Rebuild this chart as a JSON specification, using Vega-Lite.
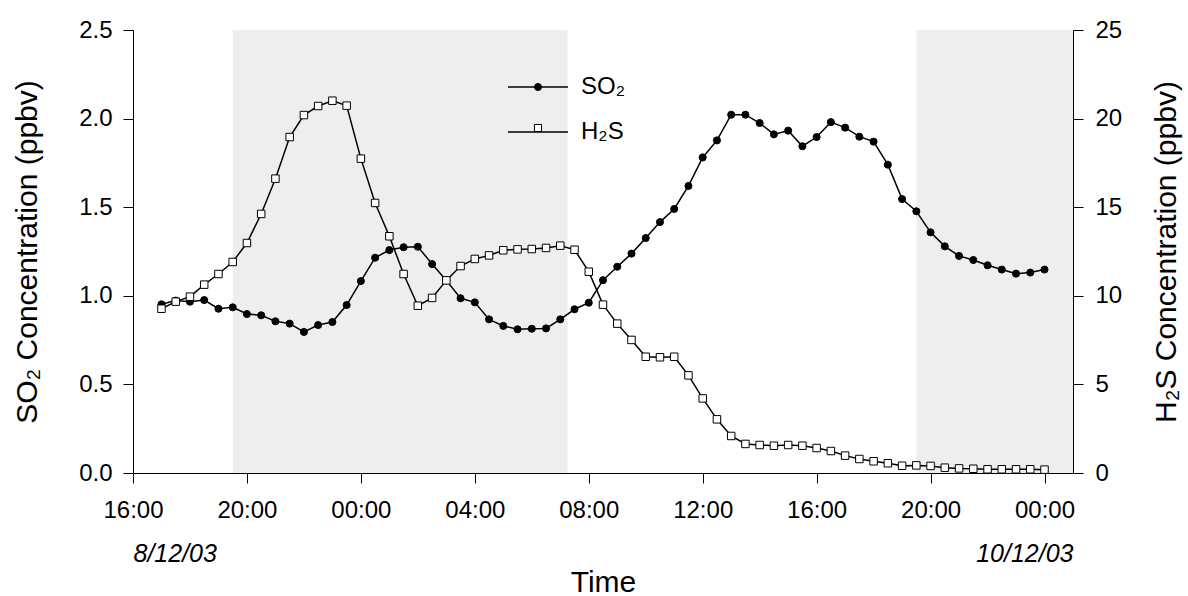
{
  "$schema": "https://vega.github.io/schema/vega-lite/v6.json",
  "width": 940,
  "height": 443,
  "autosize": "none",
  "padding": {"left": 133, "top": 30, "right": 115, "bottom": 123},
  "background": "white",
  "datasets": {
    "conc": [
      {"t": "2003-12-08T17:00:00", "so2": 0.952, "h2s": 9.27},
      {"t": "2003-12-08T17:30:00", "so2": 0.973, "h2s": 9.67},
      {"t": "2003-12-08T18:00:00", "so2": 0.967, "h2s": 9.95},
      {"t": "2003-12-08T18:30:00", "so2": 0.976, "h2s": 10.63},
      {"t": "2003-12-08T19:00:00", "so2": 0.927, "h2s": 11.23},
      {"t": "2003-12-08T19:30:00", "so2": 0.935, "h2s": 11.91},
      {"t": "2003-12-08T20:00:00", "so2": 0.897, "h2s": 12.98},
      {"t": "2003-12-08T20:30:00", "so2": 0.890, "h2s": 14.62},
      {"t": "2003-12-08T21:00:00", "so2": 0.856, "h2s": 16.61},
      {"t": "2003-12-08T21:30:00", "so2": 0.843, "h2s": 18.96},
      {"t": "2003-12-08T22:00:00", "so2": 0.796, "h2s": 20.20},
      {"t": "2003-12-08T22:30:00", "so2": 0.835, "h2s": 20.71},
      {"t": "2003-12-08T23:00:00", "so2": 0.852, "h2s": 21.01},
      {"t": "2003-12-08T23:30:00", "so2": 0.948, "h2s": 20.73},
      {"t": "2003-12-09T00:00:00", "so2": 1.083, "h2s": 17.74},
      {"t": "2003-12-09T00:30:00", "so2": 1.215, "h2s": 15.24},
      {"t": "2003-12-09T01:00:00", "so2": 1.258, "h2s": 13.36},
      {"t": "2003-12-09T01:30:00", "so2": 1.274, "h2s": 11.23},
      {"t": "2003-12-09T02:00:00", "so2": 1.277, "h2s": 9.44},
      {"t": "2003-12-09T02:30:00", "so2": 1.179, "h2s": 9.88},
      {"t": "2003-12-09T03:00:00", "so2": 1.087, "h2s": 10.87},
      {"t": "2003-12-09T03:30:00", "so2": 0.986, "h2s": 11.68},
      {"t": "2003-12-09T04:00:00", "so2": 0.963, "h2s": 12.08},
      {"t": "2003-12-09T04:30:00", "so2": 0.867, "h2s": 12.28},
      {"t": "2003-12-09T05:00:00", "so2": 0.830, "h2s": 12.57},
      {"t": "2003-12-09T05:30:00", "so2": 0.811, "h2s": 12.62},
      {"t": "2003-12-09T06:00:00", "so2": 0.814, "h2s": 12.64},
      {"t": "2003-12-09T06:30:00", "so2": 0.816, "h2s": 12.70},
      {"t": "2003-12-09T07:00:00", "so2": 0.867, "h2s": 12.83},
      {"t": "2003-12-09T07:30:00", "so2": 0.924, "h2s": 12.60},
      {"t": "2003-12-09T08:00:00", "so2": 0.961, "h2s": 11.36},
      {"t": "2003-12-09T08:30:00", "so2": 1.088, "h2s": 9.50},
      {"t": "2003-12-09T09:00:00", "so2": 1.164, "h2s": 8.43},
      {"t": "2003-12-09T09:30:00", "so2": 1.238, "h2s": 7.51},
      {"t": "2003-12-09T10:00:00", "so2": 1.326, "h2s": 6.56},
      {"t": "2003-12-09T10:30:00", "so2": 1.416, "h2s": 6.53},
      {"t": "2003-12-09T11:00:00", "so2": 1.490, "h2s": 6.56},
      {"t": "2003-12-09T11:30:00", "so2": 1.620, "h2s": 5.51},
      {"t": "2003-12-09T12:00:00", "so2": 1.781, "h2s": 4.21},
      {"t": "2003-12-09T12:30:00", "so2": 1.877, "h2s": 3.03},
      {"t": "2003-12-09T13:00:00", "so2": 2.022, "h2s": 2.09},
      {"t": "2003-12-09T13:30:00", "so2": 2.022, "h2s": 1.64},
      {"t": "2003-12-09T14:00:00", "so2": 1.975, "h2s": 1.58},
      {"t": "2003-12-09T14:30:00", "so2": 1.911, "h2s": 1.54},
      {"t": "2003-12-09T15:00:00", "so2": 1.932, "h2s": 1.58},
      {"t": "2003-12-09T15:30:00", "so2": 1.844, "h2s": 1.54},
      {"t": "2003-12-09T16:00:00", "so2": 1.896, "h2s": 1.41},
      {"t": "2003-12-09T16:30:00", "so2": 1.980, "h2s": 1.24},
      {"t": "2003-12-09T17:00:00", "so2": 1.949, "h2s": 0.98},
      {"t": "2003-12-09T17:30:00", "so2": 1.898, "h2s": 0.79},
      {"t": "2003-12-09T18:00:00", "so2": 1.870, "h2s": 0.66},
      {"t": "2003-12-09T18:30:00", "so2": 1.740, "h2s": 0.55},
      {"t": "2003-12-09T19:00:00", "so2": 1.546, "h2s": 0.41},
      {"t": "2003-12-09T19:30:00", "so2": 1.477, "h2s": 0.43},
      {"t": "2003-12-09T20:00:00", "so2": 1.358, "h2s": 0.40},
      {"t": "2003-12-09T20:30:00", "so2": 1.279, "h2s": 0.30},
      {"t": "2003-12-09T21:00:00", "so2": 1.225, "h2s": 0.26},
      {"t": "2003-12-09T21:30:00", "so2": 1.202, "h2s": 0.24},
      {"t": "2003-12-09T22:00:00", "so2": 1.172, "h2s": 0.21},
      {"t": "2003-12-09T22:30:00", "so2": 1.148, "h2s": 0.21},
      {"t": "2003-12-09T23:00:00", "so2": 1.125, "h2s": 0.21},
      {"t": "2003-12-09T23:30:00", "so2": 1.131, "h2s": 0.21},
      {"t": "2003-12-10T00:00:00", "so2": 1.148, "h2s": 0.19}
    ],
    "night": [
      {"start": "2003-12-08T19:30:00", "end": "2003-12-09T07:15:00"},
      {"start": "2003-12-09T19:30:00", "end": "2003-12-10T01:00:00"}
    ]
  },
  "layer": [
    {
      "data": {"name": "night"},
      "mark": {"type": "rect", "fill": "#eeeeee"},
      "encoding": {
        "x": {
          "field": "start", "type": "temporal",
          "scale": {"domain": [{"year": 2003, "month": 12, "date": 8, "hours": 16}, {"year": 2003, "month": 12, "date": 10, "hours": 1}], "nice": false},
          "axis": {
            "orient": "bottom",
            "values": [{"year": 2003, "month": 12, "date": 8, "hours": 16}, {"year": 2003, "month": 12, "date": 10, "hours": 1}],
            "labelExpr": "datum.index < 0.5 ? '8/12/03' : '10/12/03'",
            "labelFlush": true,
            "labelFontStyle": "italic",
            "labelFontSize": 25,
            "labelPadding": 68,
            "labelOverlap": false,
            "domain": false,
            "ticks": false,
            "tickSize": 0,
            "title": "Time",
            "titlePadding": 1
          }
        },
        "x2": {"field": "end"},
        "y": {"datum": 0, "type": "quantitative", "scale": {"domain": [0, 2.5], "nice": false}, "axis": null},
        "y2": {"datum": 2.5}
      }
    },
    {
      "data": {"name": "conc"},
      "mark": {"type": "line", "strokeWidth": 1.5},
      "encoding": {
        "x": {
          "field": "t", "type": "temporal",
          "scale": {"domain": [{"year": 2003, "month": 12, "date": 8, "hours": 16}, {"year": 2003, "month": 12, "date": 10, "hours": 1}], "nice": false},
          "axis": {
            "orient": "bottom",
            "values": [
              {"year": 2003, "month": 12, "date": 8, "hours": 16},
              {"year": 2003, "month": 12, "date": 8, "hours": 20},
              {"year": 2003, "month": 12, "date": 9, "hours": 0},
              {"year": 2003, "month": 12, "date": 9, "hours": 4},
              {"year": 2003, "month": 12, "date": 9, "hours": 8},
              {"year": 2003, "month": 12, "date": 9, "hours": 12},
              {"year": 2003, "month": 12, "date": 9, "hours": 16},
              {"year": 2003, "month": 12, "date": 9, "hours": 20},
              {"year": 2003, "month": 12, "date": 10, "hours": 0}
            ],
            "format": "%H:%M",
            "labelPadding": 15,
            "labelFlush": false,
            "labelOverlap": false,
            "title": null
          }
        },
        "y": {
          "field": "so2", "type": "quantitative",
          "scale": {"domain": [0, 2.5], "nice": false},
          "axis": {
            "orient": "left",
            "values": [0, 0.5, 1, 1.5, 2, 2.5],
            "format": ".1f",
            "labelPadding": 11,
            "title": "SO₂ Concentration (ppbv)",
            "titlePadding": 36
          }
        },
        "color": {
          "datum": "SO₂", "type": "nominal",
          "scale": {"domain": ["SO₂", "H₂S"], "range": ["black", "black"]},
          "legend": {
            "orient": "none", "legendX": 374, "legendY": 47, "title": null,
            "symbolType": "stroke", "symbolSize": 3600, "symbolStrokeWidth": 1.5,
            "clipHeight": 20, "rowPadding": 21, "labelOffset": 12, "labelFontSize": 24,
            "labelFont": "Liberation Sans", "labelColor": "black", "padding": 0
          }
        }
      }
    },
    {
      "data": {"name": "conc"},
      "mark": {"type": "point", "filled": true, "strokeWidth": 1, "size": 50, "opacity": 1},
      "encoding": {
        "x": {"field": "t", "type": "temporal", "axis": null},
        "y": {"field": "so2", "type": "quantitative", "scale": {"domain": [0, 2.5], "nice": false}, "axis": null},
        "shape": {
          "datum": "so2", "type": "nominal",
          "scale": {"domain": ["so2", "h2s"], "range": ["circle", "square"]},
          "legend": {
            "orient": "none", "legendX": 374, "legendY": 47, "title": null,
            "symbolSize": 50, "clipHeight": 20, "rowPadding": 21, "symbolOffset": 26,
            "labelOpacity": 0, "padding": 0, "symbolStrokeColor": "black", "symbolStrokeWidth": 1
          }
        },
        "fill": {
          "datum": "so2", "type": "nominal",
          "scale": {"domain": ["so2", "h2s"], "range": ["black", "white"]},
          "legend": {
            "orient": "none", "legendX": 374, "legendY": 47, "title": null,
            "symbolSize": 50, "clipHeight": 20, "rowPadding": 21, "symbolOffset": 26,
            "labelOpacity": 0, "padding": 0, "symbolStrokeColor": "black", "symbolStrokeWidth": 1
          }
        },
        "stroke": {
          "datum": "so2", "type": "nominal",
          "scale": {"domain": ["so2", "h2s"], "range": ["black", "black"]},
          "legend": {
            "orient": "none", "legendX": 374, "legendY": 47, "title": null,
            "symbolSize": 50, "clipHeight": 20, "rowPadding": 21, "symbolOffset": 26,
            "labelOpacity": 0, "padding": 0, "symbolStrokeColor": "black", "symbolStrokeWidth": 1
          }
        }
      }
    },
    {
      "data": {"name": "conc"},
      "mark": {"type": "line", "strokeWidth": 1.5},
      "encoding": {
        "x": {"field": "t", "type": "temporal", "axis": null},
        "y": {
          "field": "h2s", "type": "quantitative",
          "scale": {"domain": [0, 25], "nice": false},
          "axis": {
            "orient": "right",
            "values": [0, 5, 10, 15, 20, 25],
            "format": "d",
            "labelPadding": 12,
            "title": "H₂S Concentration (ppbv)",
            "titleAngle": 270,
            "titleBaseline": "top",
            "titlePadding": 30
          }
        },
        "color": {"datum": "H₂S", "type": "nominal"}
      }
    },
    {
      "data": {"name": "conc"},
      "mark": {"type": "point", "filled": true, "strokeWidth": 1, "size": 56, "opacity": 1},
      "encoding": {
        "x": {"field": "t", "type": "temporal", "axis": null},
        "y": {"field": "h2s", "type": "quantitative", "scale": {"domain": [0, 25], "nice": false}, "axis": null},
        "shape": {"datum": "h2s", "type": "nominal"},
        "fill": {"datum": "h2s", "type": "nominal"},
        "stroke": {"datum": "h2s", "type": "nominal"}
      }
    }
  ],
  "resolve": {"scale": {"y": "independent"}, "axis": {"x": "independent"}},
  "config": {
    "view": {"stroke": null},
    "font": "Liberation Sans",
    "axis": {
      "labelFont": "Liberation Sans",
      "titleFont": "Liberation Sans",
      "labelFontSize": 24,
      "titleFontSize": 30,
      "titleFontWeight": "normal",
      "labelColor": "black",
      "titleColor": "black",
      "domainColor": "black",
      "tickColor": "black",
      "domainWidth": 1,
      "tickWidth": 1,
      "tickSize": 10,
      "grid": false
    }
  }
}
